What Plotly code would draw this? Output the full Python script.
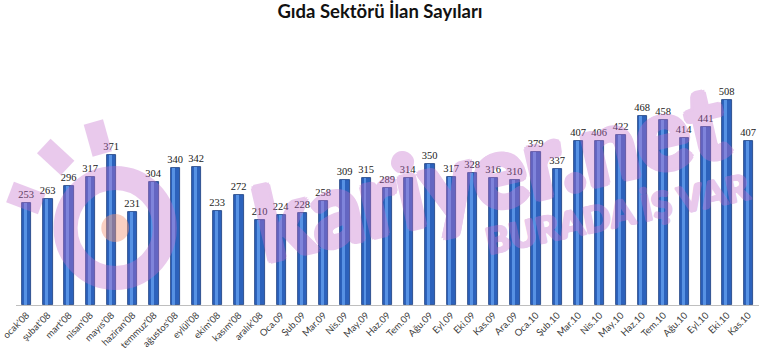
import plotly.graph_objects as go

categories = ["ocak'08", "şubat'08", "mart'08", "nisan'08", "mayıs'08", "haziran'08",
              "temmuz'08", "ağustos'08", "eylül'08", "ekim'08", "kasım'08", "aralık'08",
              "Oca.09", "Şub.09", "Mar.09", "Nis.09", "May.09", "Haz.09", "Tem.09",
              "Ağu.09", "Eyl.09", "Eki.09", "Kas.09", "Ara.09", "Oca.10", "Şub.10",
              "Mar.10", "Nis.10", "May.10", "Haz.10", "Tem.10", "Ağu.10", "Eyl.10",
              "Eki.10", "Kas.10"]
values = [253, 263, 296, 317, 371, 231, 304, 340, 342, 233, 272, 210,
          224, 228, 258, 309, 315, 289, 314, 350, 317, 328, 316, 310,
          379, 337, 407, 406, 422, 468, 458, 414, 441, 508, 407]

title_text = "Gıda Sektörü İlan Sayıları"
wm_main = "kariyer.net"
wm_sub = "BURADA İŞ VAR"
WMC = "#C46ECE"
WM_OP = 0.37


def thick(c, d):
    offs = [(d, 0), (-d, 0), (0, d), (0, -d), (d * 0.7, d * 0.7), (-d * 0.7, d * 0.7),
            (d * 0.7, -d * 0.7), (-d * 0.7, -d * 0.7)]
    return ", ".join(f"{a:.1f}px {b:.1f}px 0px {c}" for a, b in offs)


fig = go.Figure()
fig.add_trace(go.Bar(
    x=categories, y=values, width=0.44,
    marker=dict(color="#2C62BC", line=dict(color="#1A3D7E", width=0.8)),
    text=[str(v) for v in values], textposition="outside", cliponaxis=False,
    constraintext="none",
    textfont=dict(family="Liberation Serif", size=10.5, color="#1a1a1a"),
    hoverinfo="x+y",
))
# cylinder highlight
fig.add_trace(go.Bar(
    x=categories, y=values, width=0.14, offset=-0.13,
    marker=dict(color="rgba(95,155,235,0.85)", line=dict(width=0)),
    hoverinfo="skip", showlegend=False,
))

# plot-area pixel helpers for decorative watermark (paper coordinates)
L, R, T, B = 10, 759, 63, 305
def px(x):
    return (x - L) / (R - L)
def py(y):
    return (B - y) / (B - T)

shapes = [
    dict(type="circle", xref="paper", yref="paper", layer="above", opacity=WM_OP,
         x0=px(60), x1=px(160), y0=py(278), y1=py(178),
         line=dict(color=WMC, width=24), fillcolor="rgba(0,0,0,0)"),
    dict(type="circle", xref="paper", yref="paper", layer="above", opacity=0.45,
         x0=px(96), x1=px(124), y0=py(242), y1=py(214),
         line=dict(width=0), fillcolor="#F59678"),
    dict(type="line", xref="paper", yref="paper", layer="above", opacity=WM_OP,
         x0=px(4), y0=py(192), x1=px(36), y1=py(204), line=dict(color=WMC, width=22)),
    dict(type="line", xref="paper", yref="paper", layer="above", opacity=WM_OP,
         x0=px(38), y0=py(146), x1=px(62), y1=py(168), line=dict(color=WMC, width=20)),
    dict(type="line", xref="paper", yref="paper", layer="above", opacity=WM_OP,
         x0=px(88), y0=py(122), x1=px(97), y1=py(154), line=dict(color=WMC, width=20)),
]

annotations = [
    dict(text=wm_main, xref="paper", yref="paper", opacity=WM_OP,
         x=px(488), y=py(170), xanchor="center", yanchor="middle", showarrow=False,
         textangle=-13,
         font=dict(family="Lato", size=100, color=WMC, weight=900, shadow=thick(WMC, 3))),
    dict(text=wm_sub, xref="paper", yref="paper", opacity=WM_OP,
         x=px(616), y=py(213), xanchor="center", yanchor="middle", showarrow=False,
         textangle=-12,
         font=dict(family="Lato", size=36, color=WMC, weight=900, shadow=thick(WMC, 1))),
]

fig.update_layout(
    width=760, height=354,
    margin=dict(l=L, r=760 - R, t=T, b=354 - B),
    paper_bgcolor="white", plot_bgcolor="rgba(0,0,0,0)",
    barmode="overlay", showlegend=False, bargap=0,
    title=dict(text="<b>" + title_text + "</b>", x=0.5, xanchor="center",
               y=0.968, yanchor="middle",
               font=dict(family="Lato", size=18.5, color="#111111")),
    xaxis=dict(type="category", tickangle=-45, showline=True, linecolor="#BFBFBF",
               linewidth=1, ticks="", showgrid=False,
               tickfont=dict(family="Lato", size=9.5, color="#404040")),
    yaxis=dict(range=[0, 600], visible=False, showgrid=False),
    shapes=shapes,
    annotations=annotations,
)

fig.write_html("out.html")
